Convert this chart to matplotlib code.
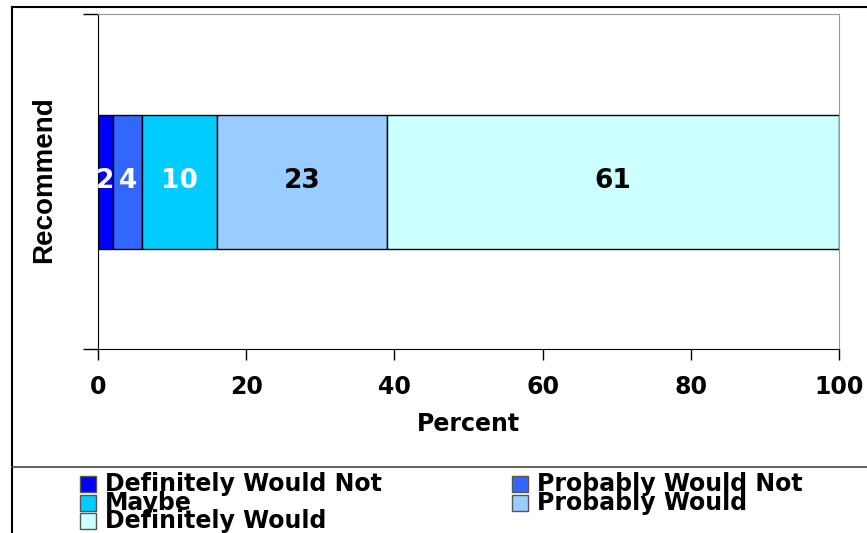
import matplotlib.pyplot as plt
from matplotlib.patches import Rectangle
from matplotlib.lines import Line2D

# Stacked horizontal bar: likelihood to recommend
categories = ['Definitely Would Not', 'Probably Would Not', 'Maybe',
              'Probably Would', 'Definitely Would']
percents = [2, 4, 10, 23, 61]
colors = ['#0000FF', '#3366FF', '#00CCFF', '#99CCFF', '#CCFFFF']
label_colors = ['white', 'white', 'white', 'black', 'black']
xticks = [0, 20, 40, 60, 80, 100]

W, H = 867, 533
fig = plt.figure(figsize=(W / 100, H / 100), dpi=100)
ax = fig.add_axes([98 / W, 1 - 349 / H, 741 / W, 335 / H])

left = 0
for val, col, tcol in zip(percents, colors, label_colors):
    ax.barh(0.5, val, left=left, height=0.4, color=col,
            edgecolor='black', linewidth=1.0)
    ax.text(left + val / 2, 0.5, str(val), ha='center', va='center',
            color=tcol, fontsize=19, fontweight='bold', family='DejaVu Sans')
    left += val

ax.set_xlim(0, 100)
ax.set_ylim(0, 1)
ax.set_xticks(xticks)
ax.set_xticklabels([str(t) for t in xticks], fontsize=17, fontweight='bold')
ax.set_yticks([0, 1])
ax.set_yticklabels([])
ax.tick_params(axis='x', direction='out', length=8, width=1, pad=11)
ax.tick_params(axis='y', direction='out', length=11, width=1)
ax.set_xlabel('Percent', fontsize=17, fontweight='bold', labelpad=9)

ax.spines['top'].set_color('#999999')
ax.spines['right'].set_color('#999999')
ax.spines['left'].set_color('black')
ax.spines['bottom'].set_color('black')

fig.text(44 / W, 1 - 180 / H, 'Recommend', rotation=90, ha='center', va='center',
         fontsize=20, fontweight='bold', family='Liberation Sans')

# outer frame and legend separator
fig.add_artist(Line2D([12 / W, 12 / W], [0, 1 - 7 / H], color='black', lw=1.5))
fig.add_artist(Line2D([12 / W, 1], [1 - 7 / H, 1 - 7 / H], color='black', lw=1.5))
fig.add_artist(Line2D([12 / W, 1], [1 - 467 / H, 1 - 467 / H], color='#444444', lw=1.2))

# legend: two columns, filled row by row
col_x = [80, 512]
row_y = [484, 503, 521]
box = 16
for i, (name, col) in enumerate(zip(categories, colors)):
    cx = col_x[i % 2]
    cy = row_y[i // 2]
    fig.add_artist(Rectangle((cx / W, 1 - (cy + box / 2) / H), box / W, box / H,
                             transform=fig.transFigure, facecolor=col,
                             edgecolor='#555555', linewidth=1))
    fig.text((cx + 25) / W, 1 - cy / H, name, ha='left', va='center',
             fontsize=17, fontweight='bold', family='DejaVu Sans')

fig.savefig('out.png', dpi=100)
